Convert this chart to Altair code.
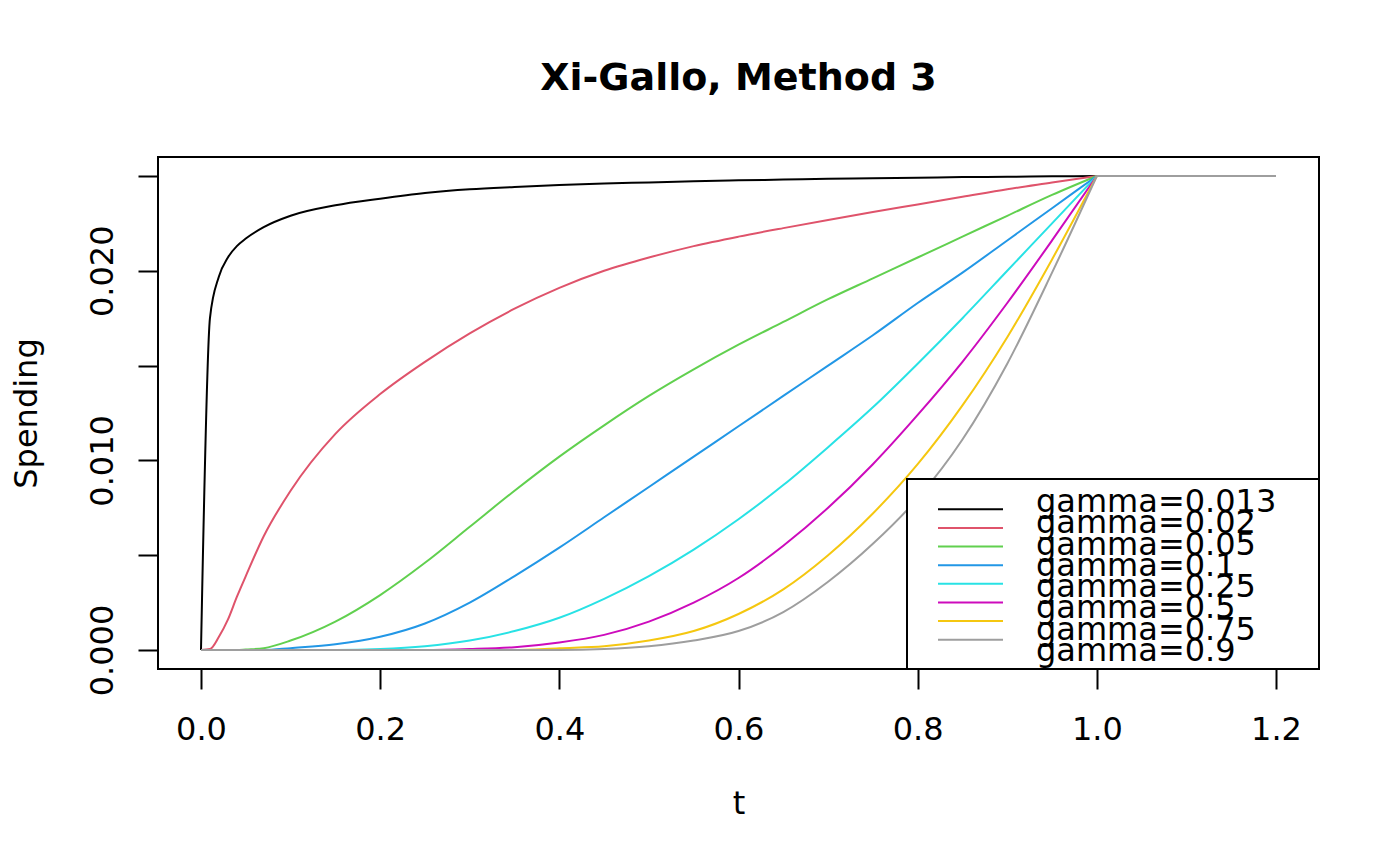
import altair as alt
import pandas as pd

# ---- data ----
t_main = [0.00, 0.01, 0.02, 0.03, 0.04, 0.05, 0.07, 0.10, 0.15, 0.20, 0.25, 0.30, 0.35,
          0.40, 0.45, 0.50, 0.55, 0.60, 0.65, 0.70, 0.75, 0.80, 0.85, 0.90, 0.95, 1.00]
t_tail = [1.0, 1.1, 1.2]
tail_value = [0.025, 0.025, 0.025]

series_labels = ["gamma=0.013", "gamma=0.02", "gamma=0.05", "gamma=0.1",
                 "gamma=0.25", "gamma=0.5", "gamma=0.75", "gamma=0.9"]
series_colors = ["#000000", "#DF536B", "#61D04F", "#2297E6",
                 "#28E2E5", "#CD0BBC", "#F5C710", "#9E9E9E"]

g_0013 = [0, .0175, .0197, .0207, .0213, .0217, .0223, .0229, .02345, .0238, .0241, .0243, .02442,
          .02452, .0246, .02466, .02472, .02477, .02481, .02485, .02488, .02491, .02494, .02496, .02498, .025]
g_002 = [0, .00005, .0007, .0016, .0028, .0039, .0060, .0084, .0114, .0135, .0152, .0167, .0180,
         .0191, .0200, .0207, .0213, .0218, .02225, .02268, .0231, .0235, .0239, .0243, .02465, .025]
g_005 = [0, 0, 0, 0, 0, .00003, .0001, .0005, .0015, .0029, .0046, .0065, .0084,
         .0102, .01185, .0134, .0148, .0161, .0173, .0185, .0196, .0207, .0218, .0229, .0240, .025]
g_01 = [0, 0, 0, 0, 0, 0, 0, .0001, .0003, .0007, .0014, .0025, .0039,
        .0054, .0070, .0086, .0102, .0118, .0134, .0150, .0166, .0183, .0199, .0216, .0233, .025]
g_025 = [0, 0, 0, 0, 0, 0, 0, 0, 0, .00005, .0002, .0005, .0010,
         .0017, .0027, .0039, .0053, .0069, .0087, .0107, .0128, .0151, .0175, .0200, .0225, .025]
g_05 = [0, 0, 0, 0, 0, 0, 0, 0, 0, 0, 0, .00005, .00015,
        .0004, .0008, .0015, .0025, .0038, .0055, .0075, .0098, .0124, .0152, .0183, .0216, .025]
g_075 = [0, 0, 0, 0, 0, 0, 0, 0, 0, 0, 0, 0, 0,
         .0001, .0002, .0005, .0010, .0019, .0032, .0050, .0072, .0098, .0129, .0165, .0206, .025]
g_09 = [0, 0, 0, 0, 0, 0, 0, 0, 0, 0, 0, 0, 0,
        0, .00005, .0002, .0005, .0010, .0020, .0036, .0056, .0080, .0111, .0151, .0199, .025]

series_values = [g_0013, g_002, g_005, g_01, g_025, g_05, g_075, g_09]

x_ticks = [0.0, 0.2, 0.4, 0.6, 0.8, 1.0, 1.2]
y_ticks = [0.000, 0.005, 0.010, 0.015, 0.020, 0.025]

# ---- tables built from the arrays ----
rows = []
for lab, vals in zip(series_labels, series_values):
    for t, v in zip(t_main, vals):
        rows.append({"t": t, "value": v, "series": lab, "piece": "a"})
    for t, v in zip(t_tail, tail_value):
        rows.append({"t": t, "value": v, "series": lab, "piece": "b"})
df = pd.DataFrame(rows)
legend_df = pd.DataFrame({"series": series_labels})

FONT = "DejaVu Sans"
W, H = 1161, 512

color = alt.Color("series:N", scale=alt.Scale(domain=series_labels, range=series_colors), legend=None)

lines = alt.Chart(df).mark_line(interpolate="monotone", strokeWidth=2).encode(
    x=alt.X("t:Q", scale=alt.Scale(domain=[-0.048, 1.248], nice=False, zero=False),
            axis=alt.Axis(values=x_ticks, format=".1f", title="t", grid=False, domain=False,
                          tickSize=20, tickWidth=2, tickColor="black",
                          labelFontSize=32, labelFont=FONT, labelColor="black", labelPadding=25,
                          labelFlush=False, labelOverlap=False,
                          titleFontSize=32, titleFont=FONT, titleFontWeight="normal", titleColor="black",
                          titleY=134, titleBaseline="middle")),
    y=alt.Y("value:Q", scale=alt.Scale(domain=[-0.001, 0.026], nice=False, zero=False),
            axis=alt.Axis(values=y_ticks, title="Spending", grid=False, domain=False,
                          labelExpr="round(datum.value*1000) % 10 == 0 ? format(datum.value, '.3f') : ''",
                          tickSize=20, tickWidth=2, tickColor="black",
                          labelFontSize=32, labelFont=FONT, labelColor="black", labelPadding=26,
                          labelAngle=270, labelAlign="center", labelBaseline="alphabetic",
                          labelOverlap=False, labelFlush=False,
                          titleFontSize=32, titleFont=FONT, titleFontWeight="normal", titleColor="black",
                          titleAngle=270, titleX=-122, titleY=256, titleAlign="center",
                          titleBaseline="alphabetic")),
    color=color,
    detail="piece:N",
)

box = alt.Chart(legend_df).mark_rect(fill="white", stroke="black", strokeWidth=2).encode(
    x=alt.value(749), x2=alt.value(W), y=alt.value(322), y2=alt.value(H)
)

leg_y = alt.Y("series:N", sort=series_labels,
              scale=alt.Scale(domain=series_labels, range=[343, 492], padding=0), axis=None)

leg_lines = alt.Chart(legend_df).mark_rule(strokeWidth=2).encode(
    x=alt.value(780), x2=alt.value(845), y=leg_y, color=color
)
leg_text = alt.Chart(legend_df).mark_text(align="left", baseline="middle", fontSize=32,
                                          font=FONT, color="black", dy=2).encode(
    x=alt.value(878), y=leg_y, text="series:N"
)

chart = alt.layer(lines, box, leg_lines, leg_text).resolve_scale(y="independent").properties(
    width=W, height=H,
    autosize=alt.AutoSizeParams(type="none"),
    padding={"left": 150, "top": 149, "right": 70, "bottom": 180},
    title=alt.TitleParams("Xi-Gallo, Method 3", fontSize=38, fontWeight="bold", font=FONT,
                          color="black", anchor="middle", baseline="bottom", offset=21),
).configure(font=FONT).configure_view(stroke="black", strokeWidth=2)

chart.save("out.html", embed_options={"renderer": "svg", "actions": False})
